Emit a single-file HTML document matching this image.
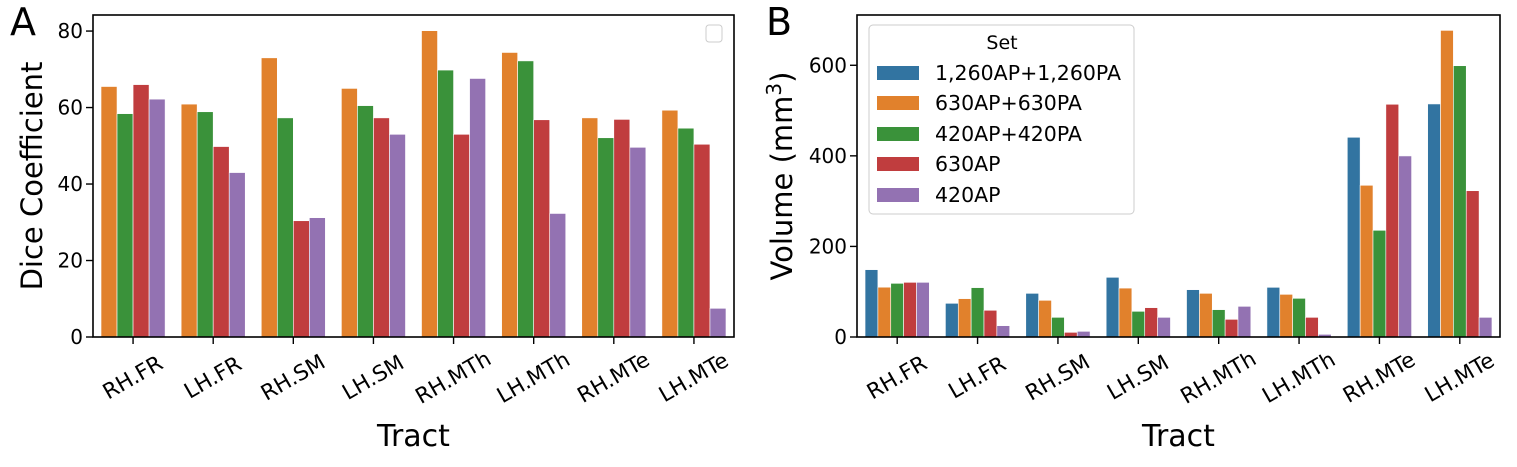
<!DOCTYPE html>
<html><head><meta charset="utf-8"><style>
html,body{margin:0;padding:0;background:#fff}
svg{display:block;font-family:"DejaVu Sans","Liberation Sans",sans-serif}
</style></head><body>
<svg id="chart" width="1517" height="467" viewBox="0 0 1517 467" xmlns="http://www.w3.org/2000/svg"></svg>
<script>
const categories = ["RH.FR","LH.FR","RH.SM","LH.SM","RH.MTh","LH.MTh","RH.MTe","LH.MTe"];
const seriesNames = ["1,260AP+1,260PA","630AP+630PA","420AP+420PA","630AP","420AP"];
const colors = ["#3274a1","#e1812c","#3a923a","#c03d3e","#9372b2"];
// Panel A (Dice): series 1..4 (no blue)
const diceOrange = [65.5,60.9,73.0,65.0,80.1,74.4,57.3,59.3];
const diceGreen  = [58.4,58.9,57.3,60.5,69.8,72.2,52.1,54.6];
const diceRed    = [66.0,49.8,30.4,57.3,53.0,56.8,56.9,50.4];
const dicePurple = [62.2,43.0,31.2,53.0,67.6,32.3,49.6,7.5];
const diceTicks = [0,20,40,60,80];
// Panel B (Volume)
const volBlue   = [148.7,74.4,96.4,131.8,104.5,109.7,441,514.6];
const volOrange = [110,84.7,81,108,96.4,94.2,335,677];
const volGreen  = [118.5,109,43.4,56.7,60.4,85.4,235.6,599];
const volRed    = [120.7,59,10.3,64.8,39,43.4,513.9,323];
const volPurple = [120.7,25,12.5,43.4,67.7,5.9,399.8,43.4];
const volTicks = [0,200,400,600];

const NS="http://www.w3.org/2000/svg";
const svg=document.getElementById('chart');
function mk(tag,attrs,parent,text){const e=document.createElementNS(NS,tag);for(const k in attrs)e.setAttribute(k,attrs[k]);if(text!==undefined)e.textContent=text;(parent||svg).appendChild(e);return e;}

function panel(opts){
  const {x0,x1,yTop,y0,ymax,series,colorIdx,ticks,letter,letterX,ylabel,ylabelX,id}=opts;
  const g=mk('g',{});
  
  
  const n=categories.length, gw=(x1-x0)/n;
  const xc=i=>x0+gw*(i+0.5);
  const ys=v=>y0-(v/ymax)*(y0-yTop);
  const nb=series.length, bw=gw*0.8/nb;
  series.forEach((arr,s)=>{
    arr.forEach((v,i)=>{
      const bx=xc(i)-gw*0.4+s*bw;
      const r=mk('rect',{x:bx,y:ys(v),width:bw,height:y0-ys(v),fill:colors[colorIdx[s]],stroke:'#fff','stroke-width':0.6},g);
      
      
    });
  });
  const frame=mk('rect',{x:x0,y:yTop,width:x1-x0,height:y0-yTop,fill:'none',stroke:'#000','stroke-width':1.6},g);
  
  
  ticks.forEach(t=>{
    mk('line',{x1:x0-7,x2:x0,y1:ys(t),y2:ys(t),stroke:'#000','stroke-width':1.4},g);
    const tl=mk('text',{x:x0-10,y:ys(t),'text-anchor':'end','dominant-baseline':'central','font-size':20},g,String(t));
    
    
  });
  categories.forEach((c,i)=>{
    mk('line',{x1:xc(i),x2:xc(i),y1:y0,y2:y0+7,stroke:'#000','stroke-width':1.4},g);
    const tl=mk('text',{x:xc(i),y:378,'text-anchor':'middle','dominant-baseline':'central','font-size':21.5,transform:`rotate(-30 ${xc(i)} 378)`},g,c);
    
    
  });
  const xt=mk('text',{x:(x0+x1)/2,y:446,'text-anchor':'middle','font-size':30},g,'Tract');
  
  
  const yc=(yTop+y0)/2;
  const yt=mk('text',{x:ylabelX,y:yc,'text-anchor':'middle','font-size':29,transform:`rotate(-90 ${ylabelX} ${yc})`},g);
  
  
  if(ylabel==='vol'){
    mk('tspan',{},yt,'Volume (mm');
    mk('tspan',{'font-size':20,dy:-11},yt,'3');
    mk('tspan',{dy:11},yt,')');
  } else yt.textContent=ylabel;
  const lt=mk('text',{x:letterX,y:35,'font-size':38},g,letter);
  
  
  return g;
}

panel({id:'a',x0:93,x1:734,yTop:15,y0:337,ymax:84.2,series:[diceOrange,diceGreen,diceRed,dicePurple],colorIdx:[1,2,3,4],ticks:diceTicks,letter:'A',letterX:10,ylabel:'Dice Coefficient',ylabelX:42});
panel({id:'b',x0:857,x1:1500,yTop:15,y0:337,ymax:711,series:[volBlue,volOrange,volGreen,volRed,volPurple],colorIdx:[0,1,2,3,4],ticks:volTicks,letter:'B',letterX:766,ylabel:'vol',ylabelX:792});

// empty legend in A
const el=mk('rect',{x:706,y:25,width:16,height:17,rx:3,fill:'#fff',stroke:'#ccc','stroke-width':1});



// legend in B
const lg=mk('g',{});


mk('rect',{x:869,y:25,width:265,height:189,rx:4,fill:'#fff','fill-opacity':0.9,stroke:'#ccc','stroke-width':1},lg);
mk('text',{x:1002,y:43,'text-anchor':'middle','dominant-baseline':'central','font-size':19},lg,'Set');
const rowY=[73,103,134,164,195];
seriesNames.forEach((s,i)=>{
  const e=mk('g',{},lg);
  
  
  mk('rect',{x:877,y:rowY[i]-7,width:42,height:14,fill:colors[i]},e);
  mk('text',{x:935,y:rowY[i],'dominant-baseline':'central','font-size':20.5},e,s);
});
</script>
</body></html>
